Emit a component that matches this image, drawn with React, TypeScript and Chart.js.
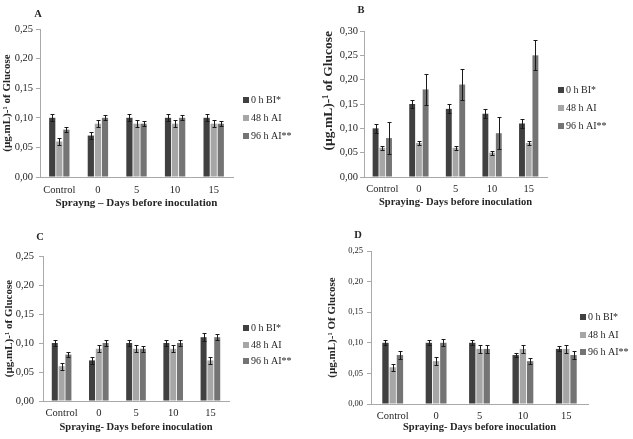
import React, { useEffect, useRef } from "react";
import { Chart, registerables } from "chart.js";

Chart.register(...registerables);

const FONT = '"Liberation Serif", "Times New Roman", serif';
const TEXT = "#262626";
const AXIS = "#a9a9a9";

const categories = ["Control", "0", "5", "10", "15"];
const seriesLabels = ["0 h BI*", "48 h AI", "96 h AI**"];
const seriesColors = ["#404040", "#a6a6a6", "#747474"];

// Panel A
const aBI0 = [0.1, 0.07, 0.1, 0.1, 0.1];
const aAI48 = [0.06, 0.09, 0.09, 0.09, 0.09];
const aAI96 = [0.08, 0.1, 0.09, 0.1, 0.09];
const aErrBI0 = [0.006, 0.006, 0.006, 0.006, 0.006];
const aErrAI48 = [0.006, 0.006, 0.006, 0.006, 0.006];
const aErrAI96 = [0.004, 0.004, 0.004, 0.004, 0.004];

// Panel B
const bBI0 = [0.1, 0.15, 0.14, 0.13, 0.11];
const bAI48 = [0.06, 0.07, 0.06, 0.05, 0.07];
const bAI96 = [0.08, 0.18, 0.19, 0.09, 0.25];
const bErrBI0 = [0.009, 0.009, 0.009, 0.009, 0.009];
const bErrAI48 = [0.004, 0.004, 0.004, 0.004, 0.004];
const bErrAI96 = [0.033, 0.032, 0.032, 0.033, 0.031];

// Panel C
const cBI0 = [0.1, 0.07, 0.1, 0.1, 0.11];
const cAI48 = [0.06, 0.09, 0.09, 0.09, 0.07];
const cAI96 = [0.08, 0.1, 0.09, 0.1, 0.11];
const cErrBI0 = [0.006, 0.006, 0.006, 0.006, 0.007];
const cErrAI48 = [0.006, 0.006, 0.006, 0.006, 0.006];
const cErrAI96 = [0.004, 0.005, 0.005, 0.005, 0.005];

// Panel D
const dBI0 = [0.1, 0.1, 0.1, 0.08, 0.09];
const dAI48 = [0.06, 0.07, 0.09, 0.09, 0.09];
const dAI96 = [0.08, 0.1, 0.09, 0.07, 0.08];
const dErrBI0 = [0.004, 0.004, 0.004, 0.004, 0.004];
const dErrAI48 = [0.006, 0.007, 0.007, 0.006, 0.007];
const dErrAI96 = [0.006, 0.006, 0.006, 0.005, 0.006];

const yTitleOf = "(µg.mL)-¹ of Glucose";
const yTitleOfCap = "(µg.mL)-¹ Of Glucose";

type PanelSpec = {
  letter: string;
  letterDx: number;
  letterDy: number;
  left: number;
  top: number;
  width: number;
  height: number;
  pad: { left: number; top: number; right: number; bottom: number };
  yAxisWidth: number;
  xAxisHeight: number;
  yMax: number;
  yTitle: string;
  xTitle: string;
  yTitlePad: number;
  yTitleSize: number;
  yTitleAlign: "center" | "end";
  yTickPad: number;
  yTickSize: number;
  xTickPad: number;
  xTitleSize: number;
  xTitlePadBottom: number;
  legendDx: number;
  legendDy: number;
  legendStep: number;
  catPct: number;
  series: number[][];
  errors: number[][];
};

const panels: PanelSpec[] = [
  {
    letter: "A", letterDx: -2, letterDy: -15,
    left: 0, top: 0, width: 316, height: 220,
    pad: { left: 0, top: 29, right: 83, bottom: 0 },
    yAxisWidth: 40, xAxisHeight: 43, yMax: 0.25,
    yTitle: yTitleOf, xTitle: "Sprayng – Days before inoculation",
    yTitlePad: 1, yTitleSize: 11, yTitleAlign: "center",
    yTickPad: 3, yTickSize: 10.5,
    xTickPad: 7, xTitleSize: 11, xTitlePadBottom: 10,
    legendDx: 10, legendDy: 71, legendStep: 18, catPct: 0.55,
    series: [aBI0, aAI48, aAI96],
    errors: [aErrBI0, aErrAI48, aErrAI96],
  },
  {
    letter: "B", letterDx: -3, letterDy: -21,
    left: 316, top: 0, width: 317, height: 220,
    pad: { left: 0, top: 31, right: 86, bottom: 0 },
    yAxisWidth: 48, xAxisHeight: 43, yMax: 0.3,
    yTitle: yTitleOf, xTitle: "Spraying- Days before inoculation",
    yTitlePad: 4, yTitleSize: 13.5, yTitleAlign: "end",
    yTickPad: 2, yTickSize: 10.5,
    xTickPad: 6, xTitleSize: 10.5, xTitlePadBottom: 11,
    legendDx: 11, legendDy: 59, legendStep: 18, catPct: 0.55,
    series: [bBI0, bAI48, bAI96],
    errors: [bErrBI0, bErrAI48, bErrAI96],
  },
  {
    letter: "C", letterDx: -3, letterDy: -19,
    left: 0, top: 220, width: 316, height: 219,
    pad: { left: 0, top: 36, right: 87, bottom: 0 },
    yAxisWidth: 43, xAxisHeight: 38, yMax: 0.25,
    yTitle: yTitleOf, xTitle: "Spraying- Days before inoculation",
    yTitlePad: 3, yTitleSize: 11, yTitleAlign: "center",
    yTickPad: 5, yTickSize: 10.5,
    xTickPad: 6, xTitleSize: 10.5, xTitlePadBottom: 5,
    legendDx: 14, legendDy: 72, legendStep: 16.5, catPct: 0.55,
    series: [cBI0, cAI48, cAI96],
    errors: [cErrBI0, cErrAI48, cErrAI96],
  },
  {
    letter: "D", letterDx: -13, letterDy: -16,
    left: 316, top: 220, width: 317, height: 219,
    pad: { left: 0, top: 31, right: 45, bottom: 0 },
    yAxisWidth: 55, xAxisHeight: 35, yMax: 0.25,
    yTitle: yTitleOfCap, xTitle: "Spraying- Days before inoculation",
    yTitlePad: 10, yTitleSize: 11, yTitleAlign: "center",
    yTickPad: 4, yTickSize: 8.5,
    xTickPad: 6, xTitleSize: 10.5, xTitlePadBottom: 5,
    legendDx: -8, legendDy: 66, legendStep: 17.5, catPct: 0.5,
    series: [dBI0, dAI48, dAI96],
    errors: [dErrBI0, dErrAI48, dErrAI96],
  },
];

// Whiskers of ±error drawn on each bar, through the y scale
const errorBars = {
  id: "errorBars",
  afterDatasetsDraw(chart: any) {
    const { ctx } = chart;
    const yScale = chart.scales.y;
    chart.data.datasets.forEach((ds: any, i: number) => {
      const meta = chart.getDatasetMeta(i);
      meta.data.forEach((bar: any, j: number) => {
        const v = ds.data[j] as number;
        const e = ds.errors[j] as number;
        const x = Math.round(bar.x) + 0.5;
        const yTop = Math.round(yScale.getPixelForValue(v + e)) + 0.5;
        const yBot = Math.round(yScale.getPixelForValue(v - e)) + 0.5;
        ctx.save();
        ctx.strokeStyle = "#1a1a1a";
        ctx.lineWidth = 1;
        ctx.beginPath();
        ctx.moveTo(x, yTop);
        ctx.lineTo(x, yBot);
        ctx.moveTo(x - 2, yTop);
        ctx.lineTo(x + 2, yTop);
        ctx.moveTo(x - 2, yBot);
        ctx.lineTo(x + 2, yBot);
        ctx.stroke();
        ctx.restore();
      });
    });
  },
};

// Series key to the right of the plot
const sideLegend = {
  id: "sideLegend",
  afterDraw(chart: any, _args: any, opts: any) {
    const { ctx, chartArea } = chart;
    ctx.save();
    ctx.font = `10px ${FONT}`;
    ctx.textBaseline = "middle";
    ctx.textAlign = "left";
    chart.data.datasets.forEach((ds: any, i: number) => {
      const x = Math.round(chartArea.right + opts.dx);
      const y = Math.round(chartArea.top + opts.dy + i * opts.step);
      ctx.fillStyle = ds.backgroundColor;
      ctx.fillRect(x, y - 3, 6, 6);
      ctx.fillStyle = TEXT;
      ctx.fillText(ds.label, x + 8, y + 0.5);
    });
    ctx.restore();
  },
};

// Panel letter above the y axis
const panelLetter = {
  id: "panelLetter",
  afterDraw(chart: any, _args: any, opts: any) {
    const { ctx, chartArea } = chart;
    ctx.save();
    ctx.font = `bold 10.5px ${FONT}`;
    ctx.fillStyle = TEXT;
    ctx.textAlign = "center";
    ctx.textBaseline = "middle";
    ctx.fillText(opts.text, chartArea.left + opts.dx, chartArea.top + opts.dy);
    ctx.restore();
  },
};

function Panel({ spec }: { spec: PanelSpec }) {
  const ref = useRef<HTMLCanvasElement>(null);

  useEffect(() => {
    const canvas = ref.current;
    if (!canvas) return;
    const chart = new Chart(canvas, {
      type: "bar",
      data: {
        labels: categories,
        datasets: spec.series.map((values, i) => ({
          label: seriesLabels[i],
          data: values,
          errors: spec.errors[i],
          backgroundColor: seriesColors[i],
          borderWidth: 0,
          categoryPercentage: spec.catPct,
          barPercentage: 0.88,
        })) as any,
      },
      options: {
        responsive: false,
        animation: false,
        devicePixelRatio: 1,
        layout: { padding: spec.pad },
        plugins: {
          legend: { display: false },
          tooltip: { enabled: false },
          sideLegend: { dx: spec.legendDx, dy: spec.legendDy, step: spec.legendStep },
          panelLetter: { text: spec.letter, dx: spec.letterDx, dy: spec.letterDy },
        } as any,
        scales: {
          x: {
            offset: true,
            grid: { display: false, drawTicks: false, tickLength: 0 },
            border: { display: true, color: AXIS, width: 1 },
            ticks: {
              color: TEXT,
              font: { family: FONT, size: 10.5 },
              padding: spec.xTickPad,
              maxRotation: 0,
            },
            title: {
              display: true,
              text: spec.xTitle,
              color: TEXT,
              font: { family: FONT, size: spec.xTitleSize, weight: "bold" },
              padding: { top: 0, bottom: spec.xTitlePadBottom },
            },
            afterFit: (scale: any) => {
              scale.height = spec.xAxisHeight;
            },
          },
          y: {
            min: 0,
            max: spec.yMax,
            grid: {
              display: true,
              drawOnChartArea: false,
              drawTicks: true,
              tickLength: 4,
              color: AXIS,
            },
            border: { display: true, color: AXIS, width: 1 },
            ticks: {
              stepSize: 0.05,
              color: TEXT,
              font: { family: FONT, size: spec.yTickSize },
              padding: spec.yTickPad,
              callback: (v: any) => Number(v).toFixed(2).replace(".", ","),
            },
            title: {
              display: true,
              text: spec.yTitle,
              align: spec.yTitleAlign,
              color: TEXT,
              font: { family: FONT, size: spec.yTitleSize, weight: "bold" },
              padding: { top: spec.yTitlePad, bottom: 0 },
            },
            afterFit: (scale: any) => {
              scale.width = spec.yAxisWidth;
            },
          },
        },
      },
      plugins: [errorBars, sideLegend, panelLetter],
    });
    return () => chart.destroy();
  }, [spec]);

  return (
    <canvas
      ref={ref}
      width={spec.width}
      height={spec.height}
      style={{
        position: "absolute",
        left: spec.left,
        top: spec.top,
        width: spec.width,
        height: spec.height,
      }}
    />
  );
}

export default function App() {
  return (
    <div style={{ position: "absolute", left: 0, top: 0, width: 633, height: 439, background: "#ffffff" }}>
      {panels.map((p) => (
        <Panel key={p.letter} spec={p} />
      ))}
    </div>
  );
}
